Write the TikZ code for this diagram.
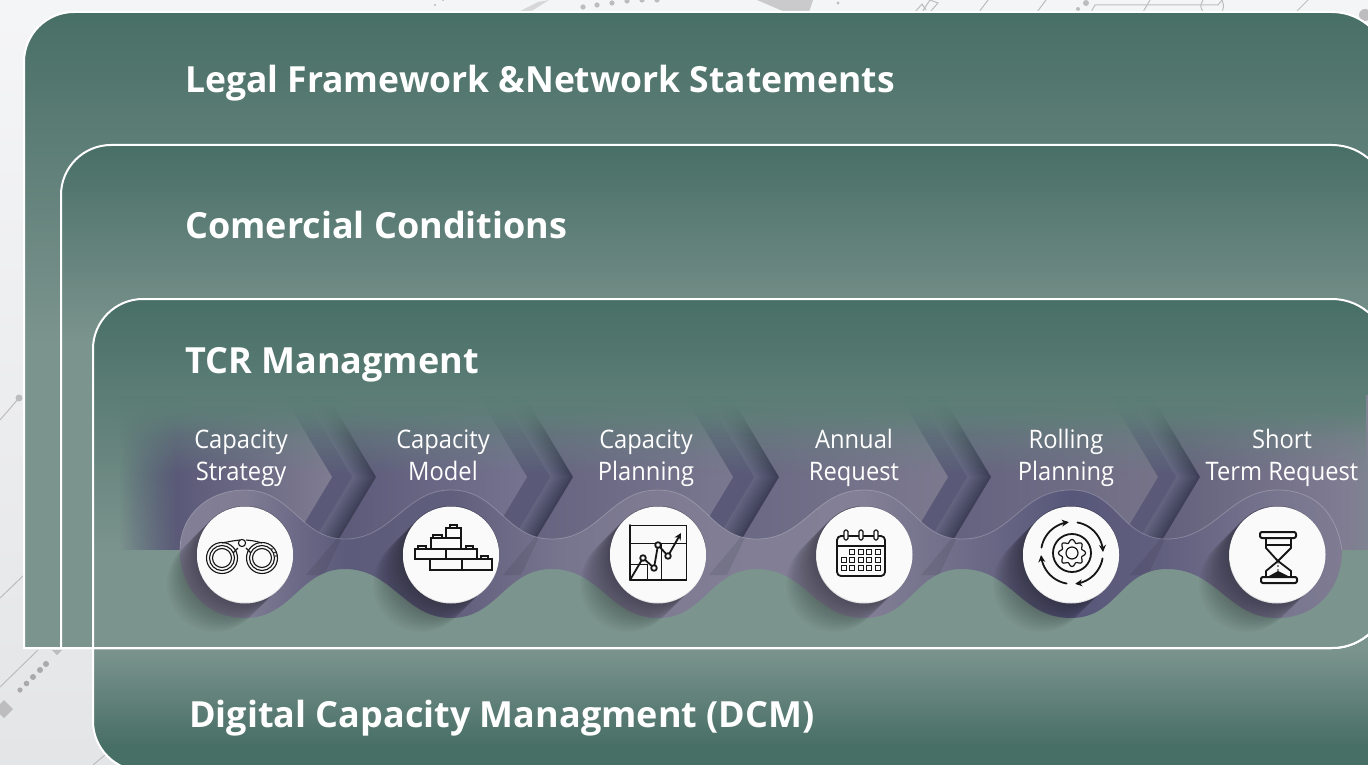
\documentclass[tikz,border=0pt]{standalone}
\usepackage{fontspec}
\setmainfont[FakeStretch=0.93]{Open Sans}
\newfontfamily\headfont[FakeStretch=1.0]{Open Sans}
\newfontfamily\headfontn[FakeStretch=0.985]{Open Sans}
\usetikzlibrary{fadings,arrows.meta}
\definecolor{pand}{HTML}{486F66}
\definecolor{panl}{HTML}{7C948E}
\definecolor{bgc}{HTML}{F0F1F3}
\definecolor{decor}{HTML}{BDBDC0}
\definecolor{chmid}{HTML}{5A5A78}
\definecolor{chnear}{HTML}{636380}
\definecolor{chdark}{HTML}{3F4058}
\definecolor{aL}{HTML}{4C4C6E}\definecolor{aR}{HTML}{807C92}
\definecolor{bL}{HTML}{595876}\definecolor{bR}{HTML}{767390}
\definecolor{cL}{HTML}{65637F}\definecolor{cR}{HTML}{7A7790}
\definecolor{dL}{HTML}{6A6883}\definecolor{dR}{HTML}{7C798F}
\definecolor{eL}{HTML}{64627F}\definecolor{eR}{HTML}{767389}
\definecolor{icon}{HTML}{151515}
\tikzfading[name=fadetop, top color=transparent!0, bottom color=transparent!100]
\tikzfading[name=fadeleft, left color=transparent!0, right color=transparent!100]
\newcommand{\bandtop}{(1342,550) .. controls (1338,522) and (1322,490) .. (1277,490) .. controls (1230,490) and (1215,539) .. (1167,539) .. controls (1120,539) and (1118,490) .. (1071,490) .. controls (1020,490) and (1012,539) .. (962,539) .. controls (915,539) and (912,490) .. (864,490) .. controls (815,490) and (805,539) .. (757,539) .. controls (710,539) and (705,490) .. (658,490) .. controls (610,490) and (600,539) .. (552,539) .. controls (505,539) and (498,490) .. (451,490) .. controls (405,490) and (392,539) .. (345,539) .. controls (300,539) and (292,490) .. (245,490) .. controls (208,490) and (180,515) .. (180,550)}
\newcommand{\bandbot}{(180,550) .. controls (180,590) and (208,618) .. (245,618) .. controls (292,618) and (300,569) .. (345,569) .. controls (392,569) and (405,618) .. (451,618) .. controls (498,618) and (505,569) .. (552,569) .. controls (600,569) and (610,618) .. (658,618) .. controls (705,618) and (710,569) .. (757,569) .. controls (805,569) and (815,618) .. (864,618) .. controls (912,618) and (915,569) .. (962,569) .. controls (1012,569) and (1020,618) .. (1071,618) .. controls (1118,618) and (1120,569) .. (1167,569) .. controls (1217,569) and (1228,618) .. (1277,618) .. controls (1315,618) and (1342,590) .. (1342,550)}
\newcommand{\chevpath}[2]{(#1,395) -- (#2-49,395) -- (#2,477) -- (#2-45,552) -- (#1,552) -- cycle}
\pgfdeclarehorizontalshading{bandshadeB}{100bp}{
 rgb(0bp)=(0.51,0.498,0.588); rgb(25bp)=(0.51,0.498,0.588);
 rgb(27.8bp)=(0.498,0.486,0.58); rgb(30.2bp)=(0.416,0.408,0.522);
 rgb(32.1bp)=(0.361,0.357,0.482); rgb(36.6bp)=(0.376,0.369,0.486);
 rgb(41.3bp)=(0.467,0.455,0.557); rgb(45.5bp)=(0.494,0.482,0.573);
 rgb(49.8bp)=(0.506,0.494,0.584); rgb(54.4bp)=(0.51,0.498,0.588);
 rgb(58.6bp)=(0.435,0.427,0.533); rgb(63.3bp)=(0.341,0.341,0.478);
 rgb(67.4bp)=(0.384,0.376,0.498); rgb(72.2bp)=(0.471,0.459,0.561);
 rgb(75bp)=(0.494,0.482,0.573); rgb(100bp)=(0.494,0.482,0.573)}
\tikzset{
 paneledge/.style={draw=white,line width=2pt},
 heading/.style={anchor=base west,text=white,font=\headfont\bfseries\fontsize{36}{36}\selectfont,inner sep=0pt},
 headingn/.style={anchor=base west,text=white,font=\headfontn\bfseries\fontsize{36}{36}\selectfont,inner sep=0pt},
 steplabel/.style={text=white,align=center,font=\fontsize{25.5}{32}\selectfont,inner sep=0pt,anchor=base},
 whitedisc/.style={circle,fill=white!98!black,minimum size=96pt,inner sep=0pt},
 iconline/.style={draw=icon,line width=1.8pt,line join=round,line cap=round},
 thinline/.style={draw=icon,line width=.8pt},
 decoline/.style={draw=decor,line width=1pt},
}
\begin{document}
\begin{tikzpicture}[x=1pt,y=-1pt]
\path[use as bounding box] (0,0) rectangle (1368,765);
\clip (0,0) rectangle (1368,765);
% page
\shade[top color=bgc!70!white,bottom color=bgc!95!black] (0,0) rectangle (1368,765);
% background traces
\draw[decoline] (0,420) -- (19,398);
\fill[decor] (19,398) circle (3.5);
\draw[decoline] (0,598) -- (24,575);
\draw[decoline] (0,687) -- (38,650);
\foreach \dx/\dy/\dr in {20/690/2.6,26.5/683.5/2.8,33/677/3,40/670/3,46/664/3}{\fill[decor!90!black] (\dx,\dy) circle (\dr);}
\fill[decor] (4,700) -- (13,709) -- (4,718) -- (-5,709) -- cycle;
\fill[decor] (52,650) -- (62,650) -- (57,655) -- cycle;
\draw[decoline] (93,765) -- (105,755);
\fill[decor!60!white] (518,12) -- (538,2) -- (549,0) -- (530,12) -- cycle;
\foreach \dx/\dy in {583/7,597/5,612/3,627/1,642/0,657/0}{\fill[decor] (\dx,\dy) circle (2.6);}
\fill[decor] (435,5) circle (1.2) (443,0) circle (1.2) (838,3) circle (1.6);
\fill[decor!80!white] (757,0) -- (785,12) -- (809,12) -- (813,0) -- cycle;
\draw[decoline] (915,12) -- (922,4) -- (926,10) (922,12) -- (930,0) -- (938,3) -- (930,12);
\draw[decoline] (979,12) -- (988,0) (1037,12) -- (1046,0) (1143,12) -- (1150,0) (1296,12) -- (1308,0);
\fill[decor] (1086,3) circle (3) (1078,9) circle (2);
\draw[decoline] (1091,12) -- (1095,5) -- (1218,5) -- (1222,0);
\draw[decoline] (1203,12) .. controls (1200,6) .. (1203,0) (1222,12) .. controls (1224,6) .. (1222,0);
\fill[decor] (1365,15) circle (6);
% DCM panel
\begin{scope}
 \clip (93,600) [rounded corners=50pt] -- (93,771) -- (1420,771) [sharp corners] -- (1420,600) -- cycle;
 \fill[panl] (93,600) rectangle (1420,649);
 \shade[top color=panl,bottom color=pand] (93,648) rectangle (1420,745);
 \fill[pand] (93,745) rectangle (1420,771);
\end{scope}
\draw[paneledge] (93,640) [rounded corners=50pt] -- (93,771) -- (1420,771);
% panel 1
\begin{scope}
 \clip (24,648) [rounded corners=50pt] -- (24,12) [rounded corners=56pt] -- (1388,12) -- (1388,648) [sharp corners] -- cycle;
 \shade[top color=pand,bottom color=panl] (0,12) rectangle (1400,345);
 \fill[panl] (0,344) rectangle (1400,650);
\end{scope}
\draw[paneledge] (24,648) [rounded corners=50pt] -- (24,12) [rounded corners=56pt] -- (1388,12) -- (1388,648) -- (1000,648) [sharp corners] -- cycle;
% panel 2
\begin{scope}
 \clip (61,648) [rounded corners=50pt] -- (61,145) [rounded corners=56pt] -- (1388,145) -- (1388,648) [sharp corners] -- cycle;
 \shade[top color=pand,bottom color=panl] (0,145) rectangle (1400,345);
 \fill[panl] (0,344) rectangle (1400,650);
\end{scope}
\draw[paneledge] (61,648) [rounded corners=50pt] -- (61,145) [rounded corners=56pt] -- (1388,145) -- (1388,648) -- (1000,648) [sharp corners] -- cycle;
% panel 3
\begin{scope}
 \clip (93,648) [rounded corners=50pt] -- (93,299) [rounded corners=56pt] -- (1388,299) -- (1388,648) [sharp corners] -- cycle;
 \shade[top color=pand,bottom color=panl] (0,299) rectangle (1400,555);
 \fill[panl] (0,554) rectangle (1400,650);
\end{scope}
% ribbon chevrons
\begin{scope}
 \clip (120,395) rectangle (1368,549);
 \shade[left color=eL!95!black,right color=aR] (1140,395) rectangle (1345,552);
 \shade[left color=aR,right color=aR!70!panl] (1344,395) rectangle (1368,552);
 \foreach \pl/\l/\m/\o/\lc/\rc in {
   950/1158/1176/1200/eL/eR,
   740/948/967/991/dL/dR,
   530/733/754/779/cL/cR,
   325/527/550/573/bL/bR,
   120/332/352/376/aL/aR}{
   \foreach \k in {0,...,7}{
     \pgfmathsetmacro{\tp}{\o-\k*(\o-\m)/8}
     \pgfmathtruncatemacro{\pc}{\k*100/7}
     \fill[chnear!\pc!chdark] \chevpath{\pl}{\tp};
   }
   \fill[chmid] \chevpath{\pl}{\m};
   \shade[left color=\lc,right color=\rc] \chevpath{\pl}{\l};
 }
\end{scope}
% fades into the panel
\shade[top color=panl!37!pand,bottom color=panl!66!pand,path fading=fadetop] (120,395) rectangle (1368,474);
\shade[top color=panl!37!pand,bottom color=panl!50!pand,path fading=fadetop] (120,395) rectangle (1368,435);
\shade[top color=panl!37!pand,bottom color=panl,path fading=fadeleft] (119,395) rectangle (178,552);
% band under the wave
\path[shading=bandshadeB] \bandbot -- \bandtop -- cycle;
% chevron edges continuing through the band
\begin{scope}
 \clip \bandbot -- \bandtop -- cycle;
 \foreach \o in {376,573,779,991,1200}{
   \fill[black,opacity=.08] (\o-22,512) -- (\o-38,512+25) -- (\o-70,575) -- (\o-52,575) -- cycle;
 }
\end{scope}
% long shadows
\foreach \cx in {245,451,658,864,1071,1277}{
 \foreach \d in {2,4,...,30}{
  \draw[black,opacity=.028,line width=96pt,line cap=round] (\cx,554) -- (\cx-\d,554+\d);
 }
}
\draw[white,opacity=.22,line width=.8pt] \bandtop;
% discs
\foreach \cx in {245,451,658,864,1071,1277}{\fill[black!12] (\cx,555.5) circle (48);}
\node[whitedisc] (d1) at (245,554.5) {};
\node[whitedisc] (d2) at (451,554.5) {};
\node[whitedisc] (d3) at (658,554.5) {};
\node[whitedisc] (d4) at (864.5,554.5) {};
\node[whitedisc] (d5) at (1071,554.5) {};
\node[whitedisc] (d6) at (1277.5,554.5) {};
% binoculars
\foreach \x in {222,262}{
 \foreach \r in {15.5,12.5,9.5}{\draw[thinline,line width=1.1pt] (\x,558) circle (\r);}
}
\draw[thinline,line width=1.1pt] (222,543) .. controls (232,541) .. (240,540) (262,543) .. controls (255,541) .. (246,540);
\draw[thinline,line width=1.1pt] (233,553) -- (238,548) (251,553) -- (246,548);
\draw[thinline,line width=1.1pt] (242,543) circle (3.6);
\fill[icon] (272,549) circle (.8) (275,552.5) circle (.8) (276,556) circle (.8);
% bricks
\foreach \a/\b/\c/\e in {446/528/461/538,431/538/461/549,415/549/446/559,446/549/477/559,430/559/462/570,462/559/492/570,450/525/457/528,433/535/442/538,418/546/426/549,466/546/473/549,481/556/488/559}{
 \draw[thinline,line width=1.2pt] (\a,\b) rectangle (\c,\e);
}
% chart
\draw[thinline] (630,525) rectangle (686,580);
\draw[thinline,line width=.6pt] (630,543) -- (686,543) (661,543) -- (661,580) (630,564) -- (647,564) -- (647,580);
\draw[iconline] (630,525) -- (630,580) -- (686,580);
\draw[iconline,-{Stealth[length=7pt,width=7pt]}] (630,580) -- (643,558) -- (654,568) -- (658,545) -- (668,556) -- (681,533);
\foreach \px/\py in {643/558,654/568,658/545,668/556}{\draw[iconline,fill=white] (\px,\py) circle (2.8);}
% calendar
\draw[iconline,rounded corners=4pt] (837,536) rectangle (885,576);
\draw[iconline] (837,546) -- (885,546);
\foreach \rx in {846,861,876}{\draw[iconline,line width=1.2pt,fill=white,rounded corners=1.5pt] (\rx-2,530) rectangle (\rx+2,540);}
\foreach \gx/\gy in {852/552,861/552,869/552,878/552,844/560,852/560,861/560,869/560,878/560,844/568,852/568,861/568,869/568,878/568}{
 \draw[thinline,line width=1.1pt] (\gx-2.3,\gy-2.3) rectangle (\gx+2.3,\gy+2.3);
}
% gear and cycle arrows
\draw[iconline] (1072,553) circle (19);
\draw[iconline,line width=1.2pt] plot[domain=0:360,samples=65,smooth] ({1072+(12+1.6*cos(8*\x))*cos(\x)},{553-(12+1.6*cos(8*\x))*sin(\x)}) -- cycle;
\draw[iconline,line width=1.2pt] (1072,553) circle (6);
\foreach \ab/\ae in {170/96,80/2,-10/-84,-100/-176}{
 \draw[iconline,-{Stealth[length=7pt,width=7pt]}] plot[domain=\ab:\ae,samples=14,smooth] ({1072+31*cos(\x)},{553-31*sin(\x)});
}
% hourglass
\draw[iconline,line width=2pt,rounded corners=2pt] (1260,532) rectangle (1296,538);
\draw[iconline,line width=2pt,rounded corners=2pt] (1261,577) rectangle (1297,583);
\draw[iconline,line width=1.8pt] (1266,538) -- (1266,548) -- (1276,559) -- (1278,561) -- (1266,571) -- (1266,577);
\draw[iconline,line width=1.8pt] (1291,538) -- (1291,548) -- (1280,559) -- (1278,561) -- (1291,571) -- (1291,577);
\draw[iconline] (1266,545) -- (1291,545);
\fill[icon] (1278,566) circle (.9) (1278,563) circle (.7) (1278,570) circle (.9);
\fill[icon] (1269,576) -- (1278,571) -- (1288,576) -- cycle;
% panel 3 outline
\draw[paneledge] (93,648) [rounded corners=50pt] -- (93,299) [rounded corners=56pt] -- (1388,299) -- (1388,648) -- (1000,648) [sharp corners] -- cycle;
% texts
\node[headingn] (t1) at (185,93) {Legal Framework \&Network Statements};
\node[heading] (t2) at (185,238) {Comercial Conditions};
\node[heading] (t3) at (185,373) {TCR Managment};
\node[heading] (t4) at (189,727) {Digital Capacity Managment (DCM)};
\node[steplabel] (s1) at (241,480) {Capacity\\Strategy};
\node[steplabel] (s2) at (443,480) {Capacity\\Model};
\node[steplabel] (s3) at (646,480) {Capacity\\Planning};
\node[steplabel] (s4) at (854,480) {Annual\\Request};
\node[steplabel] (s5) at (1066,480) {Rolling\\Planning};
\node[steplabel] (s6) at (1282,480) {Short\\Term Request};
\end{tikzpicture}
\end{document}
